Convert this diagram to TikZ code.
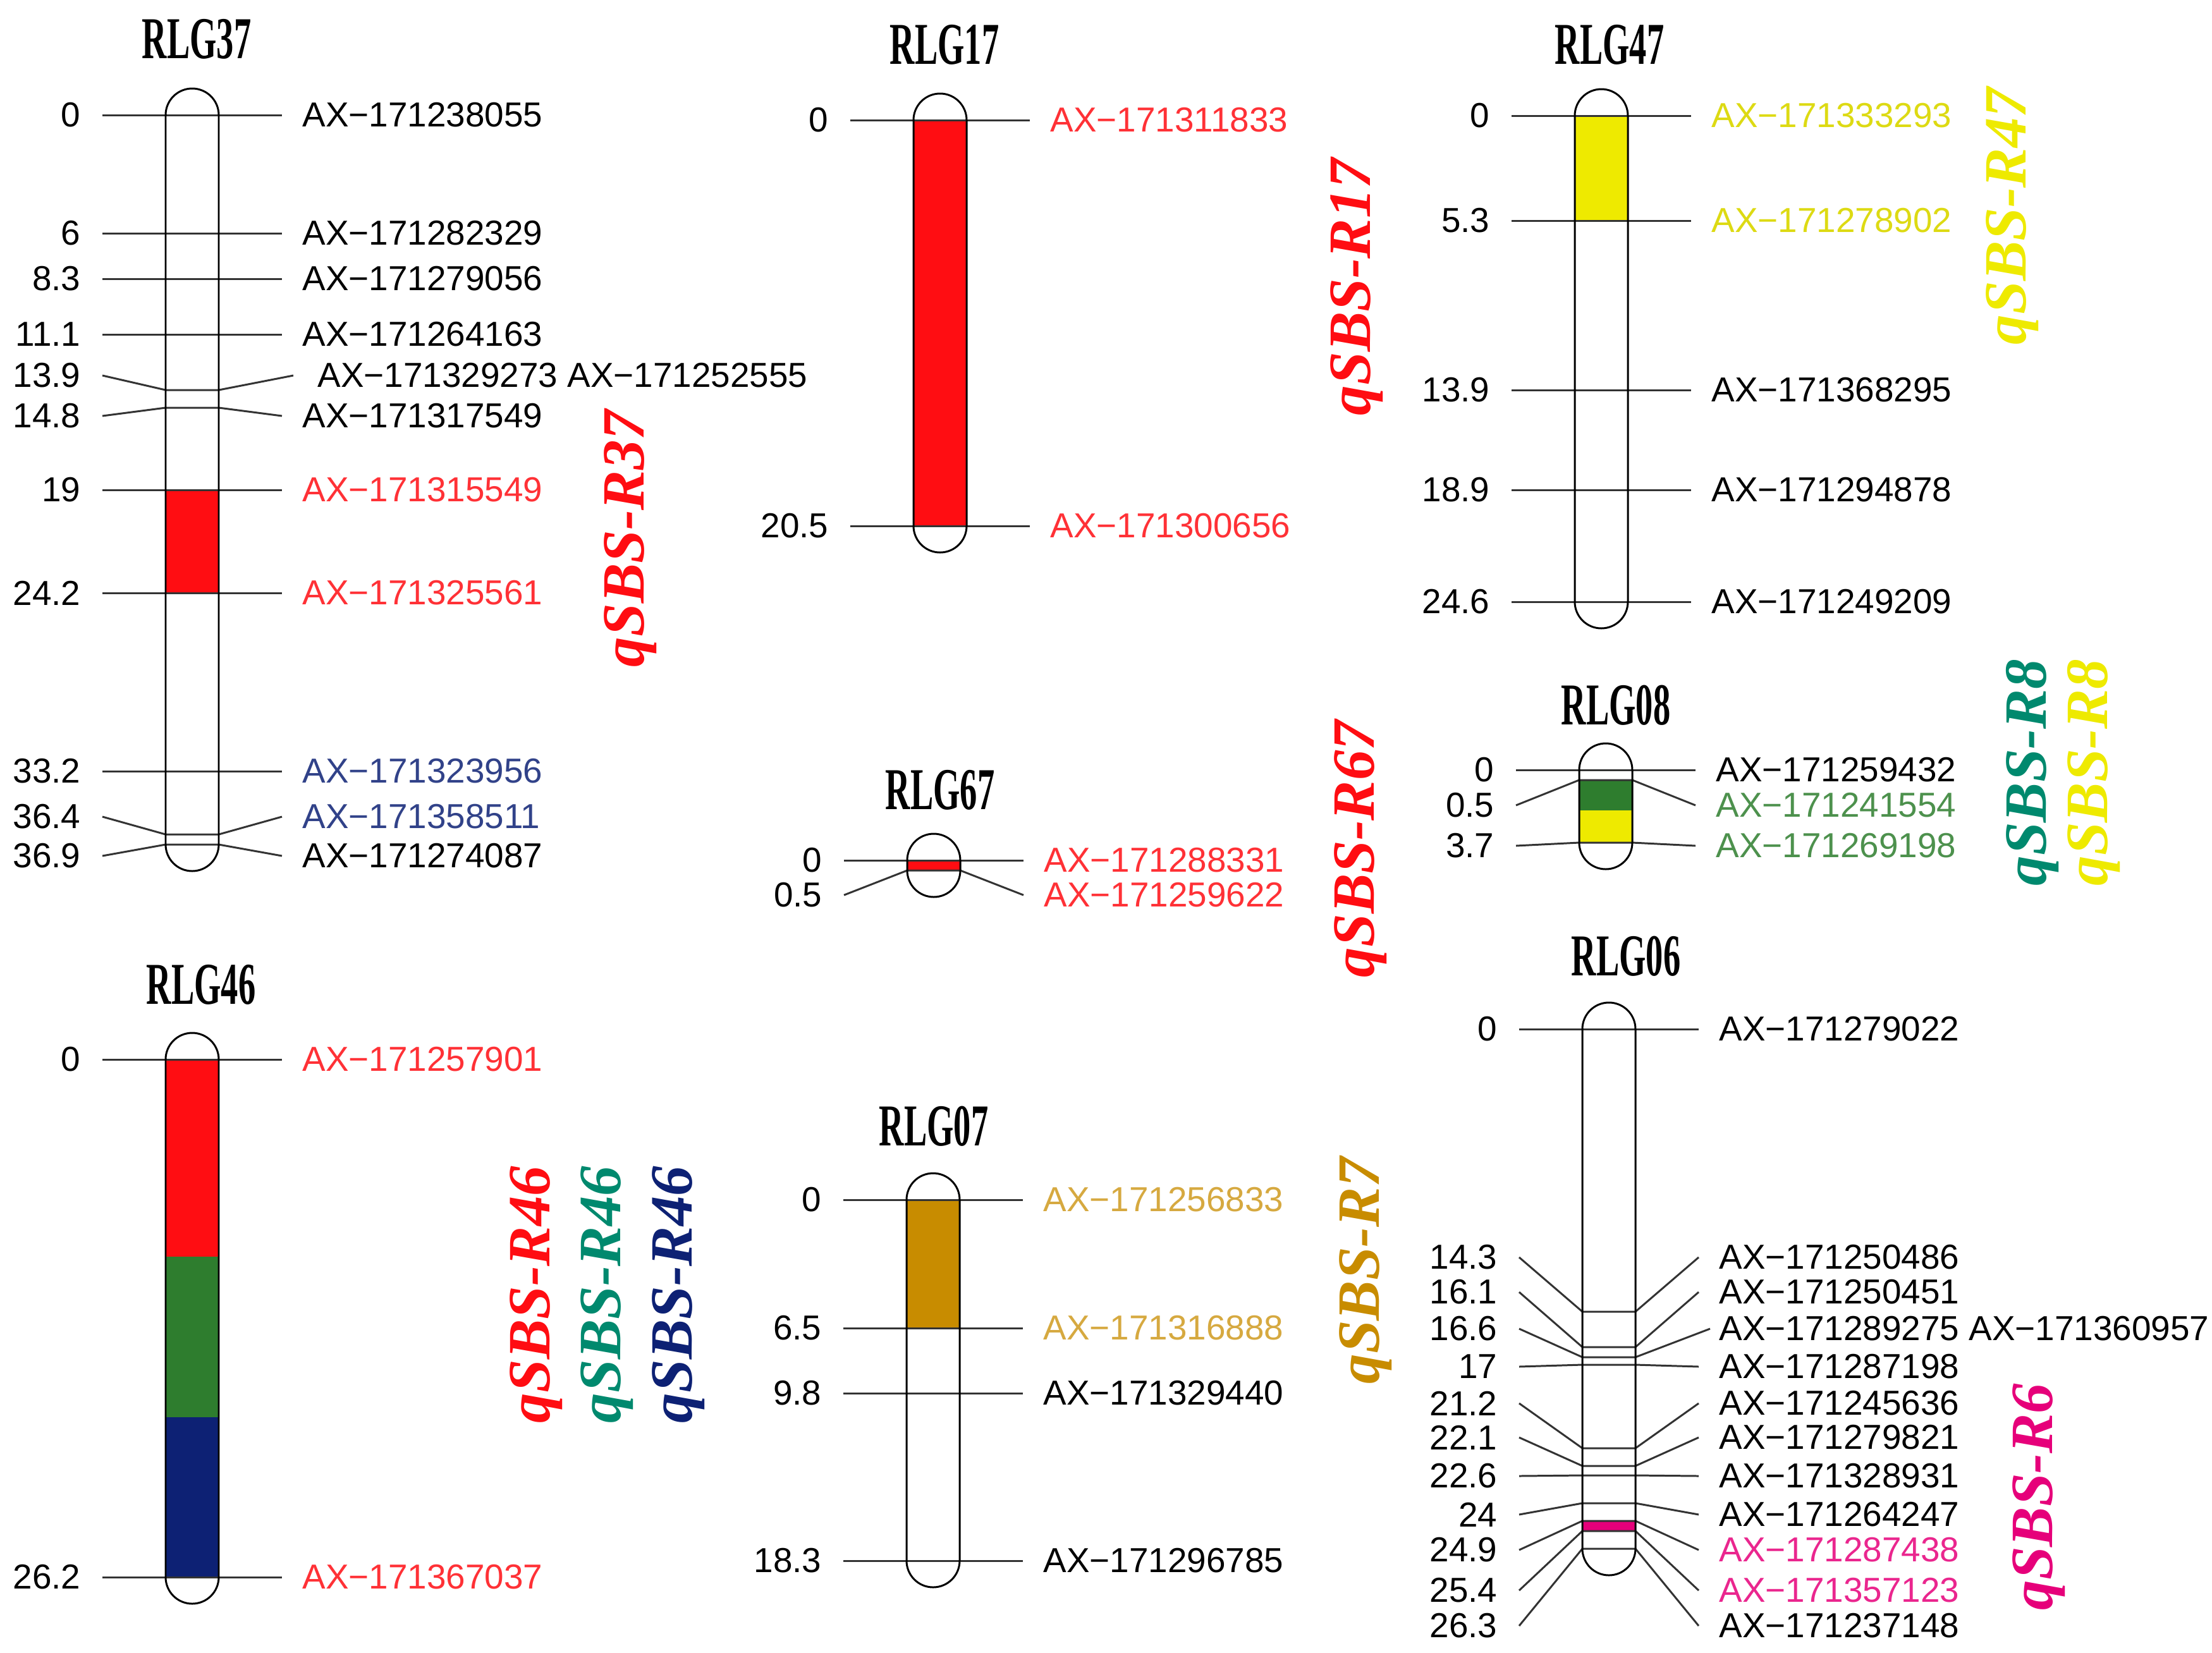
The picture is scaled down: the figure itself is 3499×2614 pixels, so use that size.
\documentclass[tikz,border=0pt]{standalone}
\usepackage{graphicx}
\usepackage{fontspec}
\setmainfont{Liberation Sans}
\newfontfamily\rlgserif{Liberation Serif}

\begin{document}
\begin{tikzpicture}[x=0.01cm,y=-0.01cm,
    mline/.style={line width=0.85pt,black!80},
    chrom/.style={line width=0.85pt,rounded corners=0.42cm},
    posl/.style={anchor=east,inner sep=0pt,font=\fontsize{15.6}{18}\selectfont},
    mkname/.style={anchor=west,inner sep=0pt,font=\fontsize{15.6}{18}\selectfont},
    lgname/.style={inner sep=0pt,font=\rlgserif\bfseries\fontsize{26.7}{30}\selectfont},
    qtl/.style={rotate=90,inner sep=0pt,font=\rlgserif\bfseries\itshape\fontsize{27}{30}\selectfont}]

    \definecolor{qred}{HTML}{FF0D12}
    \definecolor{qgreen}{HTML}{2E7D2E}
    \definecolor{qteal}{HTML}{00896E}
    \definecolor{qnavy}{HTML}{0D2174}
    \definecolor{qgold}{HTML}{C88C00}
    \definecolor{qyellow}{HTML}{EEEA00}
    \definecolor{qpink}{HTML}{E6007A}
    \colorlet{nred}{qred!85!white}
    \colorlet{nblue}{qnavy!85!white}
    \colorlet{ngreen}{qgreen!85!white}
    \colorlet{ngold}{qgold!75!white}
    \colorlet{nyellow}{qyellow!85!gray}
    \colorlet{npink}{qpink!85!white}

    \path[use as bounding box,fill=white] (0,0) rectangle (3499,2614);

    % RLG37
    \def\cx{304}\def\g{37}
    \node[lgname] (t37) at (311,62) {\scalebox{0.58}[1]{RLG37}};
    \fill[qred] (\cx-42,775) rectangle (\cx+42,938);
    \foreach \ly/\by/\cmv/\nm/\col [count=\i] in {182/182/0/AX−171238055/black,
        369/369/6/AX−171282329/black, 441/441/8.3/AX−171279056/black,
        529/529/11.1/AX−171264163/black, 658/645/14.8/AX−171317549/black,
        775/775/19/AX−171315549/nred, 938/938/24.2/AX−171325561/nred,
        1220/1220/33.2/AX−171323956/nblue, 1292/1320/36.4/AX−171358511/nblue,
        1354/1336/36.9/AX−171274087/black}{
      \draw[mline] (\cx-142,\ly) -- (\cx-42,\by) -- (\cx+42,\by) -- (\cx+142,\ly);
      \node[posl] (p\g-\i) at (\cx-176,\ly) {\cmv};
      \node[mkname,text=\col] (n\g-\i) at (\cx+174,\ly) {\nm};
    }
    \draw[mline] (\cx-142,594) -- (\cx-42,617) -- (\cx+42,617) -- (\cx+160,594);
    \node[posl] (p37-x) at (\cx-176,594) {13.9};
    \node[mkname] (n37-x) at (\cx+198,594) {AX−171329273 AX−171252555};
    \draw[chrom] (\cx-42,140) rectangle (\cx+42,1378);
    \node[qtl,text=qred] (q37) at (997,852) {qSBS-R37};

    % RLG46
    \def\cx{304}\def\g{46}
    \node[lgname] (t46) at (318,1558) {\scalebox{0.58}[1]{RLG46}};
    \fill[qred] (\cx-42,1676) rectangle (\cx+42,1988);
    \fill[qgreen] (\cx-42,1988) rectangle (\cx+42,2242);
    \fill[qnavy] (\cx-42,2242) rectangle (\cx+42,2495);
    \foreach \ly/\by/\cmv/\nm/\col [count=\i] in {1676/1676/0/AX−171257901/nred,
        2495/2495/26.2/AX−171367037/nred}{
      \draw[mline] (\cx-142,\ly) -- (\cx-42,\by) -- (\cx+42,\by) -- (\cx+142,\ly);
      \node[posl] (p\g-\i) at (\cx-176,\ly) {\cmv};
      \node[mkname,text=\col] (n\g-\i) at (\cx+174,\ly) {\nm};
    }
    \draw[chrom] (\cx-42,1634) rectangle (\cx+42,2537);
    \node[qtl,text=qred] (q46a) at (848,2048) {qSBS-R46};
    \node[qtl,text=qteal] (q46b) at (960,2048) {qSBS-R46};
    \node[qtl,text=qnavy] (q46c) at (1073,2048) {qSBS-R46};

    % RLG17
    \def\cx{1487}\def\g{17}
    \node[lgname] (t17) at (1494,71) {\scalebox{0.58}[1]{RLG17}};
    \fill[qred] (\cx-42,190) rectangle (\cx+42,832);
    \foreach \ly/\by/\cmv/\nm/\col [count=\i] in {190/190/0/AX−171311833/nred,
        832/832/20.5/AX−171300656/nred}{
      \draw[mline] (\cx-142,\ly) -- (\cx-42,\by) -- (\cx+42,\by) -- (\cx+142,\ly);
      \node[posl] (p\g-\i) at (\cx-176,\ly) {\cmv};
      \node[mkname,text=\col] (n\g-\i) at (\cx+174,\ly) {\nm};
    }
    \draw[chrom] (\cx-42,148) rectangle (\cx+42,874);
    \node[qtl,text=qred] (q17) at (2146,454) {qSBS-R17};

    % RLG67
    \def\cx{1477}\def\g{67}
    \node[lgname] (t67) at (1487,1250) {\scalebox{0.58}[1]{RLG67}};
    \fill[qred] (\cx-42,1361) rectangle (\cx+42,1377);
    \foreach \ly/\by/\cmv/\nm/\col [count=\i] in {1361/1361/0/AX−171288331/nred,
        1416/1377/0.5/AX−171259622/nred}{
      \draw[mline] (\cx-142,\ly) -- (\cx-42,\by) -- (\cx+42,\by) -- (\cx+142,\ly);
      \node[posl] (p\g-\i) at (\cx-176,\ly) {\cmv};
      \node[mkname,text=\col] (n\g-\i) at (\cx+174,\ly) {\nm};
    }
    \draw[chrom] (\cx-42,1319) rectangle (\cx+42,1419);
    \node[qtl,text=qred] (q67) at (2152,1343) {qSBS-R67};

    % RLG07
    \def\cx{1476}\def\g{07}
    \node[lgname] (t07) at (1477,1782) {\scalebox{0.58}[1]{RLG07}};
    \fill[qgold] (\cx-42,1898) rectangle (\cx+42,2101);
    \foreach \ly/\by/\cmv/\nm/\col [count=\i] in {1898/1898/0/AX−171256833/ngold,
        2101/2101/6.5/AX−171316888/ngold, 2204/2204/9.8/AX−171329440/black,
        2469/2469/18.3/AX−171296785/black}{
      \draw[mline] (\cx-142,\ly) -- (\cx-42,\by) -- (\cx+42,\by) -- (\cx+142,\ly);
      \node[posl] (p\g-\i) at (\cx-176,\ly) {\cmv};
      \node[mkname,text=\col] (n\g-\i) at (\cx+174,\ly) {\nm};
    }
    \draw[chrom] (\cx-42,1856) rectangle (\cx+42,2511);
    \node[qtl,text=qgold] (q07) at (2160,2010) {qSBS-R7};

    % RLG47
    \def\cx{2533}\def\g{47}
    \node[lgname] (t47) at (2546,71) {\scalebox{0.58}[1]{RLG47}};
    \fill[qyellow] (\cx-42,183) rectangle (\cx+42,349);
    \foreach \ly/\by/\cmv/\nm/\col [count=\i] in {183/183/0/AX−171333293/nyellow,
        349/349/5.3/AX−171278902/nyellow, 617/617/13.9/AX−171368295/black,
        775/775/18.9/AX−171294878/black, 952/952/24.6/AX−171249209/black}{
      \draw[mline] (\cx-142,\ly) -- (\cx-42,\by) -- (\cx+42,\by) -- (\cx+142,\ly);
      \node[posl] (p\g-\i) at (\cx-176,\ly) {\cmv};
      \node[mkname,text=\col] (n\g-\i) at (\cx+174,\ly) {\nm};
    }
    \draw[chrom] (\cx-42,141) rectangle (\cx+42,994);
    \node[qtl,text=qyellow] (q47) at (3183,342) {qSBS-R47};

    % RLG08
    \def\cx{2540}\def\g{08}
    \node[lgname] (t08) at (2556,1116) {\scalebox{0.58}[1]{RLG08}};
    \fill[qgreen] (\cx-42,1234) rectangle (\cx+42,1282);
    \fill[qyellow] (\cx-42,1282) rectangle (\cx+42,1333);
    \foreach \ly/\by/\cmv/\nm/\col [count=\i] in {1218/1218/0/AX−171259432/black,
        1274/1234/0.5/AX−171241554/ngreen, 1338/1333/3.7/AX−171269198/ngreen}{
      \draw[mline] (\cx-142,\ly) -- (\cx-42,\by) -- (\cx+42,\by) -- (\cx+142,\ly);
      \node[posl] (p\g-\i) at (\cx-176,\ly) {\cmv};
      \node[mkname,text=\col] (n\g-\i) at (\cx+174,\ly) {\nm};
    }
    \draw[chrom] (\cx-42,1176) rectangle (\cx+42,1375);
    \node[qtl,text=qteal] (q08a) at (3215,1222) {qSBS-R8};
    \node[qtl,text=qyellow] (q08b) at (3312,1222) {qSBS-R8};

    % RLG06
    \def\cx{2545}\def\g{06}
    \node[lgname] (t06) at (2572,1513) {\scalebox{0.58}[1]{RLG06}};
    \fill[qpink] (\cx-42,2406) rectangle (\cx+42,2422);
    \foreach \ly/\by/\cmv/\nm/\col [count=\i] in {1628/1628/0/AX−171279022/black,
        1989/2075/14.3/AX−171250486/black, 2044/2131/16.1/AX−171250451/black,
        2162/2159/17/AX−171287198/black, 2220/2291/21.2/AX−171245636/black,
        2274/2319/22.1/AX−171279821/black, 2335/2334/22.6/AX−171328931/black,
        2396/2378/24/AX−171264247/black, 2452/2406/24.9/AX−171287438/npink,
        2516/2422/25.4/AX−171357123/npink, 2572/2450/26.3/AX−171237148/black}{
      \draw[mline] (\cx-142,\ly) -- (\cx-42,\by) -- (\cx+42,\by) -- (\cx+142,\ly);
      \node[posl] (p\g-\i) at (\cx-176,\ly) {\cmv};
      \node[mkname,text=\col] (n\g-\i) at (\cx+174,\ly) {\nm};
    }
    \draw[mline] (\cx-142,2102) -- (\cx-42,2147) -- (\cx+42,2147) -- (\cx+160,2102);
    \node[posl] (p06-x) at (\cx-176,2102) {16.6};
    \node[mkname] (n06-x) at (\cx+174,2102) {AX−171289275 AX−171360957};
    \draw[chrom] (\cx-42,1586) rectangle (\cx+42,2492);
    \node[qtl,text=qpink] (q06) at (3225,2368) {qSBS-R6};

\end{tikzpicture}
\end{document}
